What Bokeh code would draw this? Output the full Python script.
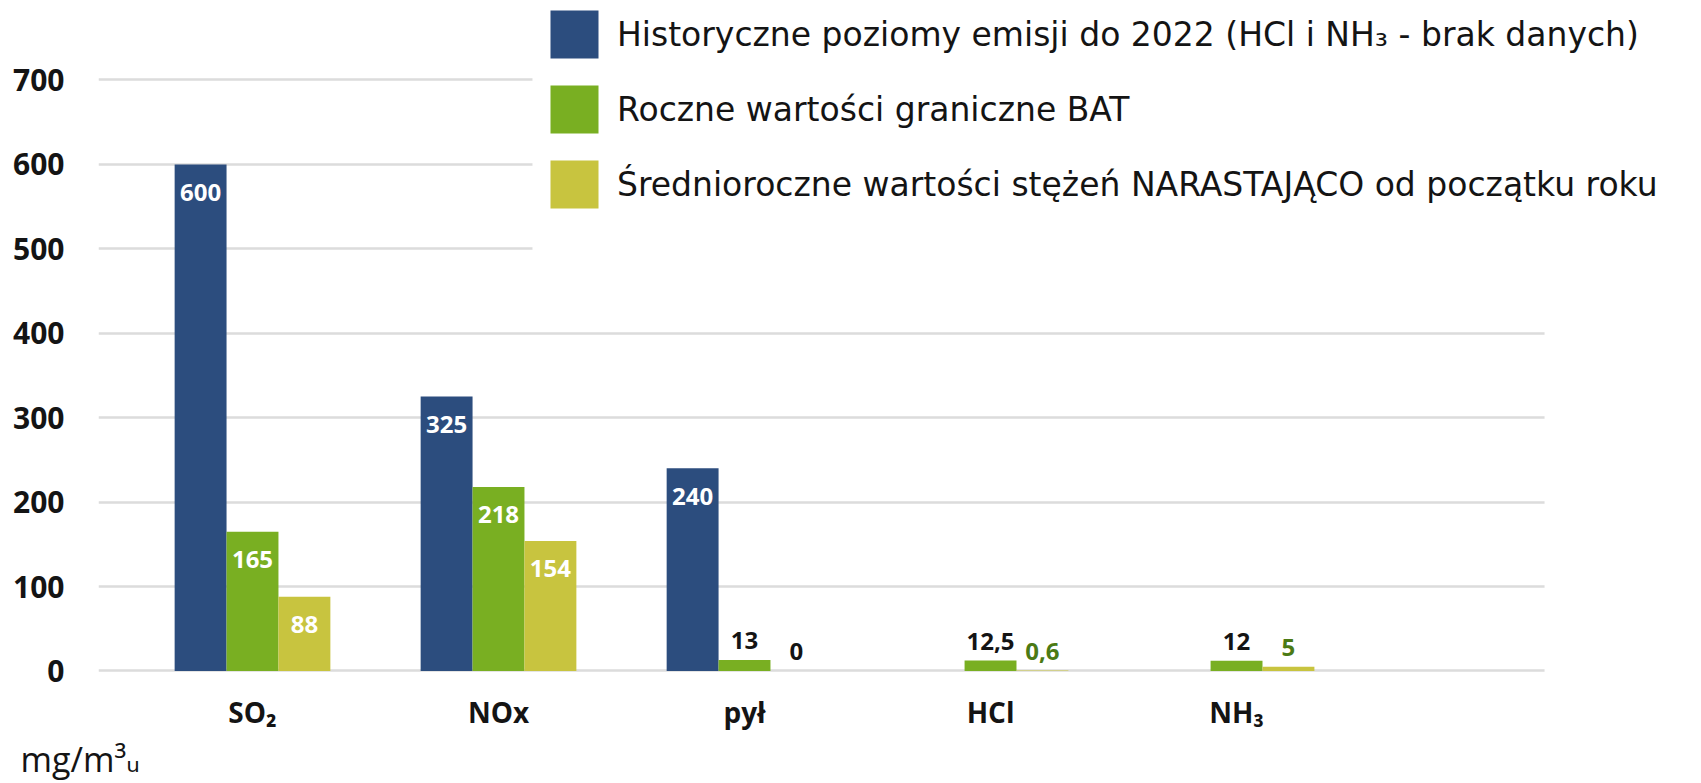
import numpy as np
from bokeh.plotting import figure
from bokeh.models import Range1d, FixedTicker, Legend, LegendItem, Title, BoxAnnotation
from bokeh.core.properties import value
from bokeh.embed import file_html
from bokeh.resources import INLINE

# ---------------- data ----------------
categories = ["SO₂", "NOx", "pył", "HCl", "NH₃"]
historical = [600, 325, 240, np.nan, np.nan]
bat_limits = [165, 218, 13, 12.5, 12]
ytd_means = [88, 154, 0, 0.6, 5]
series_names = [
    "Historyczne poziomy emisji do 2022 (HCl i NH₃ - brak danych)",
    "Roczne wartości graniczne BAT",
    "Średnioroczne wartości stężeń NARASTAJĄCO od początku roku",
]
y_ticks = [0, 100, 200, 300, 400, 500, 600, 700]
unit_label = "mg/m³ᵤ"

# ---------------- style ----------------
FONT = "Open Sans"
LEGEND_FONT = "DejaVu Sans"
bar_colors = ["#2C4D7E", "#79AF22", "#C8C43F"]
dark_green = "#4B7A14"
ink = "#141414"
bar_w = 0.211
offsets = [-bar_w, 0.0, bar_w]
inside_threshold = 50
grid_end = 5.252      # where the horizontal grid lines stop (x data units)

p = figure(width=1701, height=783,
           x_range=Range1d(-0.626, 5.890), y_range=Range1d(-3, 794.1),
           output_backend="svg", toolbar_location=None,
           min_border_left=98, min_border_right=0,
           min_border_top=0, min_border_bottom=110)
p.outline_line_color = None
p.background_fill_color = "white"
p.border_fill_color = "white"

p.xgrid.visible = False
p.ygrid.ticker = FixedTicker(ticks=y_ticks)
p.ygrid.grid_line_color = "#DCDCDC"
p.ygrid.grid_line_width = 2.5

p.yaxis.ticker = FixedTicker(ticks=y_ticks)
p.yaxis.axis_line_color = None
p.yaxis.major_tick_line_color = None
p.yaxis.minor_tick_line_color = None
p.yaxis.major_label_text_font = FONT
p.yaxis.major_label_text_font_style = "bold"
p.yaxis.major_label_text_font_size = "30px"
p.yaxis.major_label_text_color = ink
p.yaxis.major_label_standoff = 28

xs = list(range(len(categories)))
p.xaxis.ticker = FixedTicker(ticks=xs)
p.xaxis.major_label_overrides = {i: c for i, c in enumerate(categories)}
p.xaxis.axis_line_color = None
p.xaxis.major_tick_line_color = None
p.xaxis.minor_tick_line_color = None
p.xaxis.major_label_text_font = FONT
p.xaxis.major_label_text_font_style = "bold"
p.xaxis.major_label_text_font_size = "28px"
p.xaxis.major_label_text_color = ink
p.xaxis.major_label_standoff = 13

series = [historical, bat_limits, ytd_means]

def fmt(v):
    return f"{v:g}".replace(".", ",")

bar_renderers = []
in_x, in_y, in_t = [], [], []
out_x, out_y, out_t, out_c = [], [], [], []
for si, vals in enumerate(series):
    bx = [x + offsets[si] for x in xs]
    r = p.vbar(x=bx, top=vals, width=bar_w, bottom=0,
               fill_color=bar_colors[si], line_color=None)
    bar_renderers.append(r)
    for x, v in zip(bx, vals):
        if v is None or (isinstance(v, float) and np.isnan(v)):
            continue
        if v >= inside_threshold:
            in_x.append(x); in_y.append(v); in_t.append(fmt(v))
        else:
            out_x.append(x); out_y.append(v); out_t.append(fmt(v))
            out_c.append(dark_green if (si == 2 and v != 0) else ink)

p.text(x=in_x, y=in_y, text=in_t, text_align="center", text_baseline="middle",
       y_offset=28, text_color="white", text_font=value(FONT),
       text_font_style="bold", text_font_size="24px")
p.text(x=out_x, y=out_y, text=out_t, text_align="center", text_baseline="middle",
       y_offset=-19, text_color=out_c, text_font=value(FONT),
       text_font_style="bold", text_font_size="24px")

# white areas: behind the legend, and right of the grid end
p.add_layout(BoxAnnotation(left=1.138, bottom=450, fill_color="white",
                           fill_alpha=1.0, line_color=None))
p.add_layout(BoxAnnotation(left=grid_end, fill_color="white",
                           fill_alpha=1.0, line_color=None))

legend = Legend(items=[LegendItem(label=n, renderers=[r]) for n, r in zip(series_names, bar_renderers)],
                location=(446, 459), orientation="vertical",
                glyph_width=60, glyph_height=60, label_standoff=13, spacing=15,
                padding=0, margin=0, border_line_color=None, background_fill_alpha=0,
                label_text_font=LEGEND_FONT, label_text_font_size="33px", label_text_color=ink)
p.add_layout(legend)

p.add_layout(Title(text=unit_label, align="left", offset=-78, standoff=0,
                   text_font="Open Sans, DejaVu Sans", text_font_size="34px",
                   text_font_style="normal", text_color=ink), "below")

open("out.html", "w").write(file_html(p, INLINE))
